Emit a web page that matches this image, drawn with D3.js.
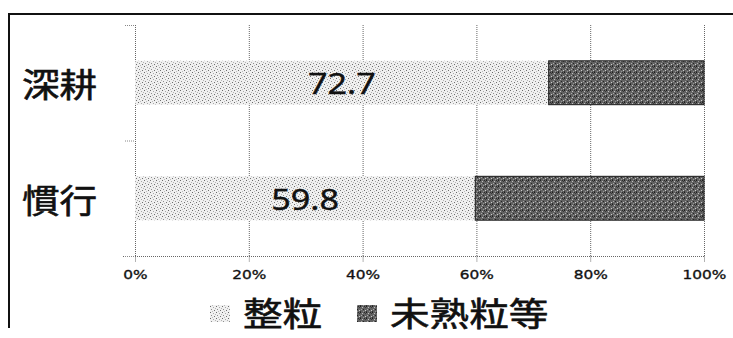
<!DOCTYPE html>
<html>
<head>
<meta charset="utf-8">
<script src="https://cdn.jsdelivr.net/npm/d3@7/dist/d3.min.js"></script>
<style>
  html, body { margin: 0; padding: 0; background: #fff; }
  svg { display: block; }
</style>
</head>
<body>
<svg id="chart" width="733" height="338"></svg>
<script>
// Grain composition by tillage method (percent, stacked to 100%)
const categories = ["深耕", "慣行"];
const seriesNames = ["整粒", "未熟粒等"];
const wholeGrain = [72.7, 59.8];
const immatureEtc = [27.3, 40.2];
const tickValues = [0, 20, 40, 60, 80, 100];
const tickLabels = ["0%", "20%", "40%", "60%", "80%", "100%"];

const svg = d3.select("#chart");
const SX = 1.18; // horizontal stretch applied to all text

// Fill patterns: light stipple for whole grain, dark texture for immature
const defs = svg.append("defs");
const light = defs.append("pattern").attr("id", "pLight")
  .attr("patternUnits", "userSpaceOnUse").attr("width", 6).attr("height", 6);
light.append("rect").attr("width", 6).attr("height", 6).attr("fill", "#f0f0f0");
[[0,0,"#6a6a6a"],[3,1,"#a8a8a8"],[1,3,"#8e8e8e"],[4,4,"#707070"],[2,5,"#bcbcbc"],[5,2,"#b4b4b4"]]
  .forEach(([x, y, c]) => light.append("rect").attr("x", x).attr("y", y).attr("width", 1).attr("height", 1).attr("fill", c));

const dark = defs.append("pattern").attr("id", "pDark")
  .attr("patternUnits", "userSpaceOnUse").attr("width", 6).attr("height", 6);
dark.append("rect").attr("width", 6).attr("height", 6).attr("fill", "#626262");
[[0,0,"#1e1e1e"],[2,1,"#c2c2c2"],[4,0,"#2c2c2c"],[1,3,"#a8a8a8"],[3,3,"#262626"],[5,4,"#cacaca"],[0,5,"#333"],[3,5,"#959595"],[5,1,"#3a3a3a"]]
  .forEach(([x, y, c]) => dark.append("rect").attr("x", x).attr("y", y).attr("width", 1).attr("height", 1).attr("fill", c));

// Outer frame (top and left edges)
svg.append("line").attr("x1", 8).attr("x2", 733).attr("y1", 14).attr("y2", 14)
  .attr("stroke", "#111").attr("stroke-width", 2);
svg.append("line").attr("x1", 9).attr("x2", 9).attr("y1", 14).attr("y2", 328)
  .attr("stroke", "#111").attr("stroke-width", 2);

// Scales
const x = d3.scaleLinear().domain([0, 100]).range([135, 704]);
const y = d3.scaleBand().domain(categories).range([25, 256])
  .paddingInner(0.62).paddingOuter(0.31);
const plotTop = 25, plotBottom = 256;

// Vertical gridlines
svg.append("g").selectAll("line").data(tickValues).join("line")
  .attr("x1", d => x(d) + 0.5).attr("x2", d => x(d) + 0.5)
  .attr("y1", plotTop).attr("y2", plotBottom)
  .attr("stroke", "#666").attr("stroke-width", 1).attr("stroke-dasharray", "1,1");

// Bottom axis
const xAxis = svg.append("g").attr("transform", `translate(0,${plotBottom + 0.5})`)
  .call(d3.axisBottom(x).tickValues(tickValues).tickSize(6).tickFormat((d, i) => tickLabels[i]));
xAxis.select(".domain").attr("d", `M123,0H${x(100)}`)
  .attr("stroke", "#666").attr("stroke-dasharray", "1,1");
xAxis.selectAll(".tick line").attr("stroke", "#666").attr("stroke-dasharray", "1,1");
xAxis.selectAll(".tick text")
  .attr("y", 0).attr("dy", 0)
  .attr("transform", "translate(0,18) scale(" + SX + ",1)")
  .attr("font-family", "DejaVu Sans, Verdana, sans-serif")
  .attr("font-size", 13).attr("fill", "#111")
  .attr("stroke", "#111").attr("stroke-width", 0.35)
  .attr("dominant-baseline", "central");

// Left axis ticks at band boundaries
const bounds = [plotTop, (y(categories[0]) + y.bandwidth() + y(categories[1])) / 2, plotBottom];
svg.append("g").selectAll("line").data(bounds).join("line")
  .attr("x1", 125).attr("x2", x(0)).attr("y1", d => d + 0.5).attr("y2", d => d + 0.5)
  .attr("stroke", "#888").attr("stroke-dasharray", "1,1");

// Stacked bars
const bars = svg.append("g");
bars.selectAll("rect.whole").data(categories).join("rect").attr("class", "whole")
  .attr("x", x(0)).attr("y", d => y(d))
  .attr("width", (d, i) => x(wholeGrain[i]) - x(0)).attr("height", y.bandwidth())
  .attr("fill", "url(#pLight)");
bars.selectAll("rect.immature").data(categories).join("rect").attr("class", "immature")
  .attr("x", (d, i) => x(wholeGrain[i])).attr("y", d => y(d))
  .attr("width", (d, i) => x(wholeGrain[i] + immatureEtc[i]) - x(wholeGrain[i])).attr("height", y.bandwidth())
  .attr("fill", "url(#pDark)").attr("stroke", "#1a1a1a").attr("stroke-width", 1);

// Value labels centred in the whole-grain segment
svg.append("g").selectAll("text").data(categories).join("text")
  .attr("transform", (d, i) => `translate(${(x(0) + x(wholeGrain[i])) / 2},${y(d) + y.bandwidth() / 2}) scale(${SX},1)`)
  .attr("text-anchor", "middle").attr("dominant-baseline", "central")
  .attr("font-family", "Noto Sans, Open Sans, sans-serif").attr("font-size", 29).attr("fill", "#111")
  .attr("stroke", "#111").attr("stroke-width", 0.4)
  .text((d, i) => wholeGrain[i].toFixed(1));

// Category labels
svg.append("g").selectAll("text").data(categories).join("text")
  .attr("transform", d => `translate(22,${y(d) + y.bandwidth() / 2}) scale(1.14,1)`)
  .attr("dominant-baseline", "central")
  .attr("font-family", "Noto Sans CJK JP, sans-serif").attr("font-size", 33).attr("fill", "#111")
  .attr("stroke", "#111").attr("stroke-width", 0.6)
  .text(d => d);

// Legend
const legendX = [210, 357];
const legendFill = ["url(#pLight)", "url(#pDark)"];
const lg = svg.append("g");
seriesNames.forEach((name, i) => {
  lg.append("rect").attr("x", legendX[i]).attr("y", 305).attr("width", 20).attr("height", 17)
    .attr("fill", legendFill[i]);
  lg.append("text")
    .attr("transform", `translate(${legendX[i] + 33},312) scale(1.2,1)`)
    .attr("dominant-baseline", "central")
    .attr("font-family", "Noto Sans CJK JP, sans-serif").attr("font-size", 33).attr("fill", "#111")
    .attr("stroke", "#111").attr("stroke-width", 0.6)
    .text(name);
});
</script>
</body>
</html>
